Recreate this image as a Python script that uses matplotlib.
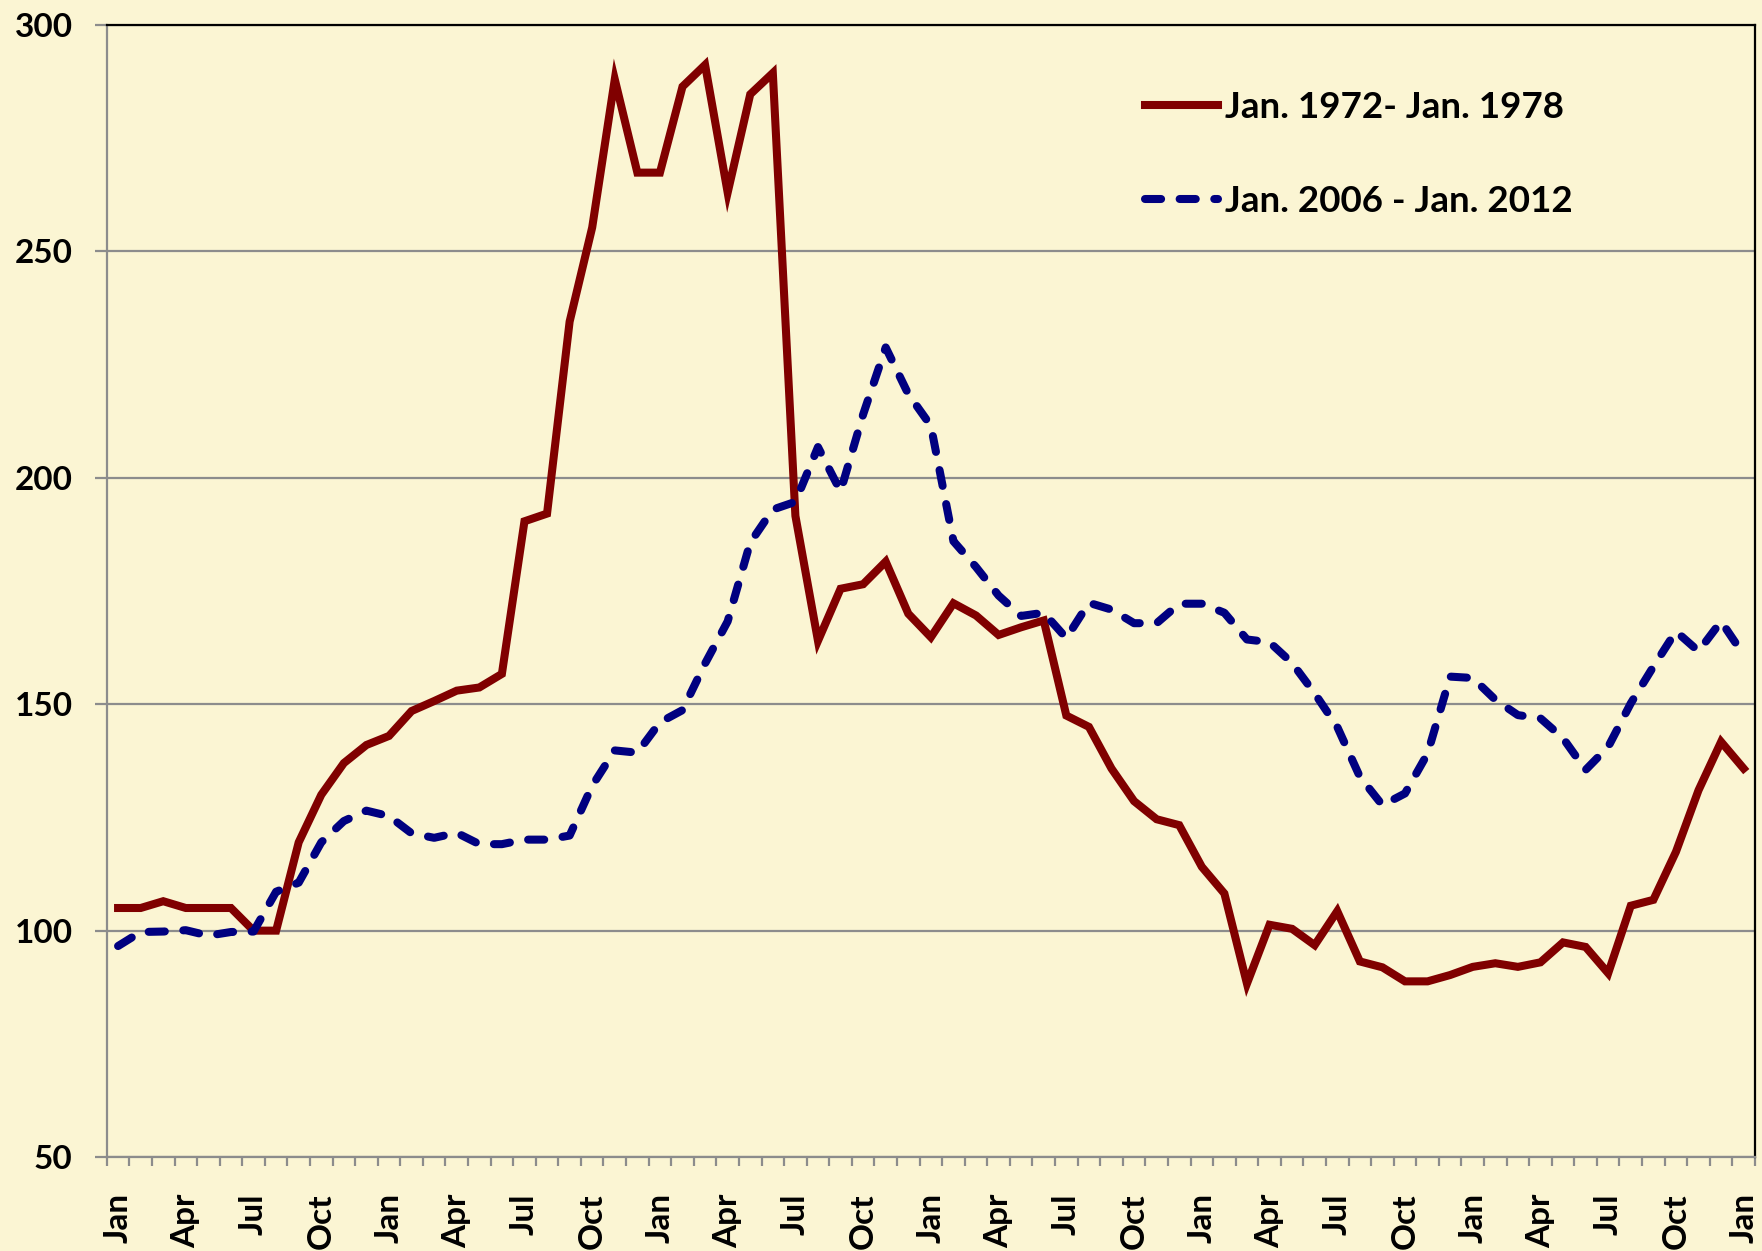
import matplotlib
matplotlib.use("Agg")
import matplotlib.pyplot as plt
import numpy as np

plt.rcParams['font.family'] = ['Lato', 'DejaVu Sans']
plt.rcParams['font.weight'] = 'bold'

# monthly values, Jan to Jan over six years (73 months)
series_1972 = [105, 105, 106.5, 105, 105, 105, 100, 100, 119.5, 130,
               137, 141, 143, 148.5, 150.7, 153, 153.7, 156.7, 190.4, 192.1,
               234.5, 255.3, 288, 267.4, 267.4, 286.4, 291.2, 263, 284.7, 289.4,
               191.6, 164, 175.5, 176.5, 181.5, 170, 164.8, 172.3, 169.6, 165.3,
               167, 168.5, 147.5, 145, 135.8, 128.6, 124.6, 123.3, 114.1, 108.2,
               88.3, 101.3, 100.4, 96.8, 104.3, 93.2, 91.9, 88.8, 88.8, 90.2,
               92, 92.8, 92, 93, 97.4, 96.4, 90.6, 105.5, 106.8, 117.4,
               131, 141.7, 135.8]
series_2006 = [96.6, 99.7, 99.8, 100.1, 98.9, 99.7, 99.8, 108.6, 110.6, 119.5,
               124.2, 126.5, 125.3, 121.5, 120.5, 121.6, 119.1, 119.1, 120.1, 120.1,
               121, 132, 139.8, 139.3, 146, 148.7, 159, 168.3, 185.7, 193,
               194.7, 206.8, 197, 214, 228.8, 218.5, 211.5, 186, 180.3, 174,
               169.5, 170.2, 164.6, 172.4, 170.9, 167.9, 167.9, 172.2, 172.2, 170.2,
               164.3, 163.7, 159.1, 152.4, 145, 134, 127.7, 130.3, 139.1, 156.1,
               155.8, 151, 147.6, 146.9, 142.5, 135.5, 140.6, 150.2, 158.3, 166.1,
               161.7, 168.3, 160.9]
month_names = ['Jan', 'Apr', 'Jul', 'Oct']
label_1972 = 'Jan. 1972- Jan. 1978'
label_2006 = 'Jan. 2006 - Jan. 2012'

bg = '#FBF5D3'
fig = plt.figure(figsize=(17.62, 12.51), dpi=100, facecolor=bg)
ax = fig.add_axes([0.0606, 0.0751, 0.9354, 0.9049], facecolor=bg)

x = np.arange(len(series_1972))
ax.plot(x, series_1972, color='#800000', linewidth=5.8, solid_joinstyle='miter',
        label=label_1972, zorder=3)
ln, = ax.plot(x, series_2006, color='#000080', linewidth=5.8, dash_capstyle='round',
              label=label_2006, zorder=4)
ln.set_dashes([2.0, 2.3])

ax.set_xlim(-0.5, len(x) - 0.5)
ax.set_ylim(50, 300)
ax.set_yticks([50, 100, 150, 200, 250, 300])
ax.grid(axis='y', color='#8C8C8C', linewidth=1.6)
ax.set_axisbelow(True)

ax.set_xticks(x[::3])
ax.set_xticklabels([month_names[(i // 3) % 4] for i in x[::3]], rotation=90)
ax.set_xticks(np.arange(-0.5, len(x)), minor=True)
ax.tick_params(axis='x', which='major', length=0, pad=26, labelsize=24)
ax.tick_params(axis='x', which='minor', length=6.5, width=1.6, color='#8C8C8C')
ax.tick_params(axis='y', length=8.6, width=1.6, color='#8C8C8C', pad=16, labelsize=24)

for s in ['left', 'bottom']:
    ax.spines[s].set_color('#8C8C8C')
    ax.spines[s].set_linewidth(1.6)
for s in ['top', 'right']:
    ax.spines[s].set_color('black')
    ax.spines[s].set_linewidth(1.6)

ax.legend(loc='upper left', bbox_to_anchor=(0.61, 0.971), frameon=False,
          fontsize=26.5, handlelength=1.97, handletextpad=0.2, labelspacing=1.65)

fig.savefig('out.png', dpi=100, facecolor=bg)
